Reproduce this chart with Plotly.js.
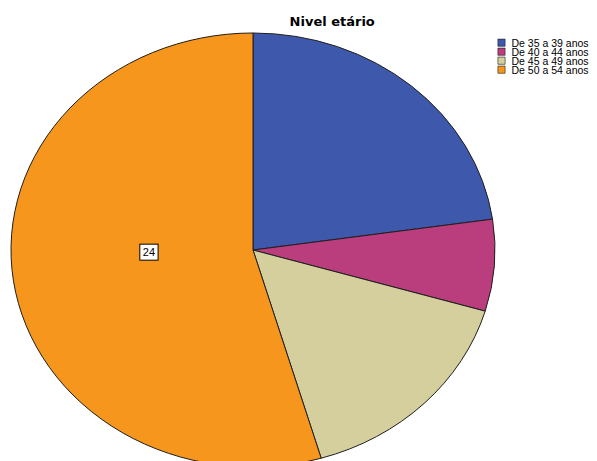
<!DOCTYPE html>
<html>
<head>
<meta charset="utf-8">
<script src="https://cdn.plot.ly/plotly-3.0.1.min.js"></script>
<style>html,body{margin:0;padding:0;background:#fff;}#chart{width:597px;height:461px;}</style>
</head>
<body>
<div id="chart"></div>
<script>
// Data
var categories = ['De 35 a 39 anos', 'De 40 a 44 anos', 'De 45 a 49 anos', 'De 50 a 54 anos'];
var counts = [10, 3, 7, 24];
var shownLabels = ['', '', '', '%{value}'];
var sliceColors = ['#3E58AC', '#BA3D7D', '#D4CF9C', '#F7961C'];
var chartTitle = 'Nivel etário';

var W = 597, H = 461;

var trace = {
  type: 'pie',
  labels: categories,
  values: counts,
  sort: false,
  direction: 'clockwise',
  rotation: 0,
  marker: {colors: sliceColors, line: {color: '#1e1e1e', width: 1}},
  texttemplate: shownLabels,
  textposition: 'inside',
  insidetextorientation: 'horizontal',
  textfont: {family: 'Arial, Liberation Sans, sans-serif', size: 11, color: '#000'},
  hoverinfo: 'none',
  domain: {x: [0, H / W], y: [0, 1]}
};

var layout = {
  width: W, height: H,
  margin: {l: 0, r: 0, t: 0, b: 0},
  paper_bgcolor: '#fff',
  showlegend: true,
  title: {
    text: chartTitle,
    font: {family: 'DejaVu Sans, sans-serif', size: 13, color: '#000', weight: 'bold'},
    x: 335 / W, xanchor: 'center', xref: 'paper',
    y: 1 - 21 / H, yanchor: 'middle', yref: 'container'
  },
  legend: {
    x: 0.8, y: 0.95, xanchor: 'left', yanchor: 'top',
    font: {family: 'Arial, Liberation Sans, sans-serif', size: 10.5, color: '#000'},
    bgcolor: 'rgba(0,0,0,0)', traceorder: 'normal'
  }
};

Plotly.newPlot('chart', [trace], layout, {staticPlot: true}).then(function (gd) {
  var NS = 'http://www.w3.org/2000/svg';
  // Elliptical pie (SPSS style): stretch the circular pie into an ellipse
  var cd0 = gd.calcdata[0][0];
  var cx = cd0.cx, cy = cd0.cy, r = cd0.r;
  var ecx = 253, ecy = 250, rx = 242, ry = 217;
  var pl = gd.querySelector('.pielayer');
  pl.setAttribute('transform', 'translate(' + ecx + ',' + ecy + ') scale(' + (rx / r) + ',' + (ry / r) + ') translate(' + (-cx) + ',' + (-cy) + ')');
  pl.querySelectorAll('path.surface').forEach(function (p) { p.style.vectorEffect = 'non-scaling-stroke'; });

  // Boxed value label, drawn undistorted on top of the ellipse (SPSS places it at ~0.43 of the radius)
  var labelLayer = document.createElementNS(NS, 'g');
  pl.parentNode.appendChild(labelLayer);
  pl.querySelectorAll('text.slicetext').forEach(function (t) {
    if (!t.textContent) return;
    var g = document.createElementNS(NS, 'g');
    labelLayer.appendChild(g);
    t.removeAttribute('transform');
    g.appendChild(t);
    var bb = t.getBBox();
    var mx = bb.x + bb.width / 2, my = bb.y + bb.height / 2;
    var rect = document.createElementNS(NS, 'rect');
    rect.setAttribute('x', bb.x - 3);
    rect.setAttribute('y', my - 8);
    rect.setAttribute('width', bb.width + 6);
    rect.setAttribute('height', 16);
    rect.setAttribute('fill', '#fff');
    rect.setAttribute('stroke', '#000');
    g.insertBefore(rect, t);
    var tx = ecx - 0.43 * rx, ty = ecy + 0.01 * ry;
    g.setAttribute('transform', 'translate(' + (tx - mx) + ',' + (ty - my) + ')');
  });

  // Compact SPSS-like legend
  var leg = gd.querySelector('g.legend');
  var items = leg.querySelectorAll('g.traces');
  var m0 = /translate\(([-\d.]+)[ ,]+([-\d.]+)\)/.exec(items[0].getAttribute('transform'));
  var bx = parseFloat(m0[1]), y0 = parseFloat(m0[2]);
  items.forEach(function (it, i) {
    it.setAttribute('transform', 'translate(' + bx + ',' + (y0 + 9 * i) + ')');
    var sym = it.querySelector('path.legendpie');
    if (sym) sym.setAttribute('transform', 'translate(20,0) scale(0.6)');
    var tx = it.querySelector('text.legendtext');
    if (tx) tx.setAttribute('x', 30);
  });
  leg.setAttribute('transform', 'translate(' + (501.5 - bx - 20) + ',' + (42.7 - y0) + ')');
});
</script>
</body>
</html>
